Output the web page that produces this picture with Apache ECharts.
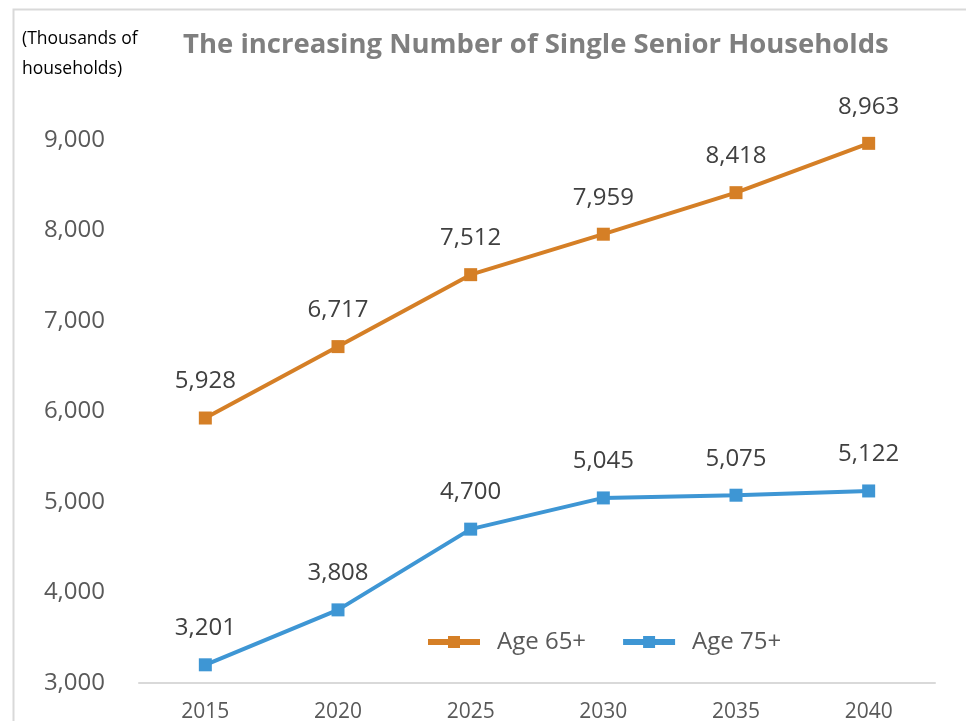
<!DOCTYPE html>
<html>
<head>
<meta charset="utf-8">
<script src="https://cdn.jsdelivr.net/npm/echarts@6/dist/echarts.min.js"></script>
<style>
  html, body { margin: 0; padding: 0; background: #fff; }
  #chart { width: 966px; height: 721px; }
</style>
</head>
<body>
<div id="chart"></div>
<script>
var years = ['2015', '2020', '2025', '2030', '2035', '2040'];
var age65 = [5928, 6717, 7512, 7959, 8418, 8963];
var age75 = [3201, 3808, 4700, 5045, 5075, 5122];

var FONT = '"Open Sans", "Noto Sans", sans-serif';

function fmt(v) {
    return v.toLocaleString('en-US');
}

function lineSeries(name, data, color) {
    return {
        name: name,
        type: 'line',
        data: data,
        symbol: 'rect',
        symbolSize: 13,
        lineStyle: { color: color, width: 4 },
        itemStyle: { color: color },
        label: {
            show: true,
            position: 'top',
            distance: 18,
            color: '#404040',
            fontFamily: FONT,
            fontSize: 24,
            formatter: function (p) { return fmt(p.value); }
        }
    };
}

var chart = echarts.init(document.getElementById('chart'));
chart.setOption({
    animation: false,
    backgroundColor: '#fff',
    title: {
        text: 'The increasing Number of Single Senior Households',
        left: 178,
        top: 26,
        textStyle: { color: '#7f7f7f', fontSize: 27.5, fontWeight: 'bold', fontFamily: FONT }
    },
    graphic: [
        {
            type: 'rect',
            left: 11, top: 7,
            shape: { width: 1000, height: 800 },
            style: { fill: 'none', stroke: '#d9d9d9', lineWidth: 2 }
        },
        {
            type: 'text',
            left: 22, top: 24,
            style: {
                text: '(Thousands of\nhouseholds)',
                fill: '#000',
                fontSize: 17.5,
                lineHeight: 30,
                fontFamily: FONT
            }
        }
    ],
    legend: {
        left: 420,
        top: 625,
        itemWidth: 52,
        itemHeight: 15,
        itemGap: 34,
        lineStyle: { width: 6 },
        textStyle: { color: '#595959', fontSize: 24, fontFamily: FONT, padding: [0, 0, 0, 12] },
        data: ['Age 65+', 'Age 75+']
    },
    grid: { left: 139, right: 31, top: 140, bottom: 38, outerBoundsMode: 'none' },
    xAxis: {
        type: 'category',
        data: years,
        boundaryGap: true,
        axisLine: { lineStyle: { color: '#d9d9d9', width: 2 } },
        axisTick: { show: false },
        axisLabel: { color: '#595959', fontSize: 21, fontFamily: FONT, margin: 19 }
    },
    yAxis: {
        type: 'value',
        min: 3000,
        max: 9000,
        interval: 1000,
        splitLine: { show: false },
        axisLine: { show: false },
        axisTick: { show: false },
        axisLabel: {
            color: '#595959', fontSize: 24, fontFamily: FONT, margin: 34,
            formatter: function (v) { return fmt(v); }
        }
    },
    series: [
        lineSeries('Age 65+', age65, '#d57f26'),
        lineSeries('Age 75+', age75, '#3e96d4')
    ]
});
</script>
</body>
</html>
